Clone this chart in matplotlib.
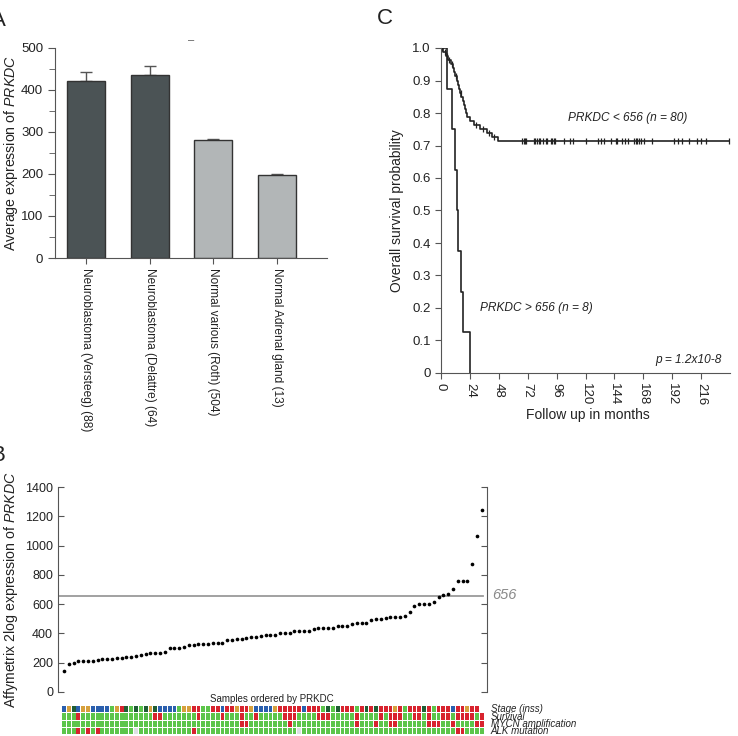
import numpy as np
import matplotlib
matplotlib.use("Agg")
import matplotlib.pyplot as plt
from matplotlib.ticker import MultipleLocator

plt.rcParams['font.family'] = ['Liberation Sans', 'DejaVu Sans']
plt.rcParams['mathtext.fontset'] = 'custom'
plt.rcParams['mathtext.rm'] = 'Liberation Sans'
plt.rcParams['mathtext.it'] = 'Liberation Sans:italic'

# ---------------- data ----------------
# Panel A
a_categories = ["Neuroblastoma (Versteeg) (88)", "Neuroblastoma (Delattre) (64)",
                "Normal various (Roth) (504)", "Normal Adrenal gland (13)"]
a_values = [422, 436, 280, 197]
a_errors = [20, 22, 4, 4]
a_colors = ["#4b5355", "#4b5355", "#b2b6b7", "#b2b6b7"]

# Panel C (Kaplan-Meier)
low_times = [0, 2, 4, 6, 8, 10, 11, 12, 13, 14, 15, 16, 17, 18, 19, 20, 21, 22, 24, 27, 32, 38, 42, 47, 240]
low_surv = [1.0, 0.9875, 0.975, 0.9625, 0.95, 0.9375, 0.925, 0.9125, 0.9, 0.8875, 0.875, 0.8625,
            0.85, 0.8375, 0.825, 0.8125, 0.8, 0.7875, 0.775, 0.7625, 0.75, 0.7375, 0.725, 0.7125, 0.7125]
low_censored = [1, 3, 5, 7, 9, 12.5, 16.5, 29, 35, 40, 44,
                67, 69, 70, 71, 77, 78, 80, 81, 82.5, 85, 87, 88, 91, 92, 94, 95, 102, 107.5,
                110, 120, 130, 132.5, 135, 141, 145, 146.5, 150.5, 153, 155, 160, 162, 163,
                164.5, 166, 168.5, 175.5, 193.5, 196.5, 200.5, 206, 213, 216, 220, 239.5]
high_times = [0, 5, 9, 11.5, 13, 14.5, 16.5, 18.5, 24]
high_surv = [1.0, 0.875, 0.75, 0.625, 0.5, 0.375, 0.25, 0.125, 0.0]
c_xticks = [0, 24, 48, 72, 96, 120, 144, 168, 192, 216]
c_yticks = [0, 0.1, 0.2, 0.3, 0.4, 0.5, 0.6, 0.7, 0.8, 0.9, 1.0]
c_yticklabels = ["0", "0.1", "0.2", "0.3", "0.4", "0.5", "0.6", "0.7", "0.8", "0.9", "1.0"]

# Panel B
b_values = [145, 189, 196, 210, 212, 214, 214, 216, 226, 228, 228, 230, 232, 238, 242, 246,
            252, 262, 264, 266, 268, 270, 298, 300, 302, 304, 318, 322, 326, 328, 330, 332,
            334, 336, 356, 358, 360, 362, 366, 376, 378, 380, 388, 390, 392, 400, 402, 404,
            414, 416, 418, 420, 432, 434, 436, 438, 440, 450, 452, 454, 466, 468, 470, 472,
            494, 496, 498, 508, 510, 512, 514, 516, 548, 590, 598, 600, 604, 612, 651, 663,
            670, 706, 758, 758, 760, 874, 1065, 1243]
b_cutoff = 656
b_yticks = [0, 200, 400, 600, 800, 1000, 1200, 1400]
strip_labels = ["Stage (inss)", "Survival", "MYCN amplification", "ALK mutation"]
strip_stage = "bodboobbbbgordgdgdodbbbbgoorrggrrbrrorrobbbborrrrrbrrrgdgdrrrgr" + "drdrrrorgrrrdrgrrrbrrorr"
strip_surv = ("gggrgggggggggggggggrrgggggggrggggrgggrggrgggggrrrggggrrrgggggrggg"
              "grgrrrggrrgrggrrgrrrrgrrrr")[:88]
strip_mycn = ("gggggggggggggggggggggggggggggggggggggrrggggggggrgggggggggggggrg"
              "ggrggrrggggggrrrggrggggrrr")[:88]
strip_alk = ("gggrgrgrgggggggxgggggggggggrgggggggggggggggggggggxgggggggggggggggg"
             "ggggggggggggggggrrgggg")[:88]
strip_palette = {"b": "#2a5fae", "o": "#d6a03c", "d": "#1f5e34", "g": "#5cc54a",
                 "r": "#d8232e", "x": "#dde1e4"}

# ---------------- figure ----------------
W, H = 738, 736
fig = plt.figure(figsize=(W / 100, H / 100), dpi=100)


def box(l, t, r, b):
    return [l / W, 1 - b / H, (r - l) / W, (b - t) / H]


spine_c = "#555555"
txt_c = "#222222"

# ---------- Panel A ----------
axA = fig.add_axes(box(55, 48, 327, 258))
xa = np.arange(len(a_values))
axA.bar(xa, a_values, width=0.6, color=a_colors, edgecolor="#333333", linewidth=1.0, zorder=2)
axA.errorbar(xa, a_values, yerr=[[0] * 4, a_errors], fmt="none", ecolor="#555555",
             elinewidth=1.0, capsize=4, capthick=1.0, zorder=1)
axA.set_xlim(-0.487, 3.785)
axA.set_ylim(0, 500)
axA.yaxis.set_major_locator(MultipleLocator(100))
axA.yaxis.set_minor_locator(MultipleLocator(50))
axA.set_xticks(xa)
axA.set_xticklabels(a_categories, rotation=270, fontsize=8.6, color=txt_c)
for s in ["top", "right"]:
    axA.spines[s].set_visible(False)
for s in ["left", "bottom"]:
    axA.spines[s].set_color(spine_c)
axA.tick_params(axis="y", which="both", direction="out", color=spine_c, labelsize=9.5, labelcolor=txt_c)
axA.tick_params(axis="y", which="major", length=5)
axA.tick_params(axis="y", which="minor", length=4)
axA.tick_params(axis="x", direction="out", length=4, color=spine_c, pad=3)
axA.set_ylabel("Average expression of $\\it{PRKDC}$", fontsize=10.2, color=txt_c)
axA.yaxis.set_label_coords((20 - 55) / 272, 0.5)
fig.text(191 / W, 1 - 40 / H, "\u2013", fontsize=8, color="#555555", ha="center", va="center")
fig.text(-0.012, 1 - 20 / H, "A", fontsize=16, ha="left", va="center", color=txt_c)

# ---------- Panel C ----------
axC = fig.add_axes(box(441, 48, 730, 373))
axC.step(low_times, low_surv, where="post", color=txt_c, lw=1.2)
axC.step(high_times, high_surv, where="post", color=txt_c, lw=1.2)
lt = np.array(low_times)
ls = np.array(low_surv)
cens_y = [ls[np.searchsorted(lt, c, side="right") - 1] for c in low_censored]
axC.plot(low_censored, cens_y, ls="none", marker="|", ms=5, mew=0.9, color=txt_c)
axC.set_xlim(0, 240)
axC.set_ylim(0, 1.0)
axC.set_xticks(c_xticks)
axC.set_xticklabels([str(v) for v in c_xticks], rotation=270, fontsize=9.5, color=txt_c)
axC.set_yticks(c_yticks)
axC.set_yticklabels(c_yticklabels, fontsize=9.5, color=txt_c)
for s in ["top", "right"]:
    axC.spines[s].set_visible(False)
for s in ["left", "bottom"]:
    axC.spines[s].set_color(spine_c)
axC.tick_params(direction="out", length=4, color=spine_c)
axC.set_ylabel("Overall survival probability", fontsize=10, color=txt_c)
axC.yaxis.set_label_coords((404 - 441) / 289, 0.5)
axC.set_xlabel("Follow up in months", fontsize=10, color=txt_c)
axC.xaxis.set_label_coords((588 - 441) / 289, -(408 - 373) / 325)
fs_ann = 8.6
axC.text(568 / W, 1 - 118 / H, "PRKDC < 656 (n = 80)", transform=fig.transFigure, style="italic",
         fontsize=fs_ann, ha="left", va="center", color=txt_c)
axC.text(480 / W, 1 - 308 / H, "PRKDC > 656 (n = 8)", transform=fig.transFigure, style="italic",
         fontsize=fs_ann, ha="left", va="center", color=txt_c)
axC.text(722 / W, 1 - 360 / H, "p = 1.2x10-8", transform=fig.transFigure, style="italic",
         fontsize=fs_ann, ha="right", va="center", color=txt_c)
fig.text(385 / W, 1 - 18 / H, "C", fontsize=16, ha="center", va="center", color=txt_c)

# ---------- Panel B ----------
axB = fig.add_axes(box(58, 487, 487, 692))
xb = np.arange(len(b_values))
axB.scatter(xb, b_values, s=7, color="black", zorder=3, linewidths=0)
axB.set_xlim(-1.25, 88.1)
axB.set_ylim(0, 1400)
axB.axhline(b_cutoff, xmin=0, xmax=0.99, color="#9a9a9a", lw=1.3, zorder=2)
axB.set_yticks(b_yticks)
axB.set_yticklabels([str(v) for v in b_yticks], fontsize=9, color=txt_c)
axB.set_xticks([])
for s in ["top", "bottom", "right"]:
    axB.spines[s].set_visible(False)
axB.spines["left"].set_color(spine_c)
axB.tick_params(axis="y", direction="in", length=4, color=spine_c)
axB.set_ylabel("Affymetrix 2log expression of $\\it{PRKDC}$", fontsize=10.2, color=txt_c)
axB.yaxis.set_label_coords((20 - 58) / 429, 0.5)
axR = axB.twinx()
axR.set_ylim(0, 1400)
axR.set_yticks(b_yticks)
axR.tick_params(axis="y", direction="in", length=4, color=spine_c, labelright=False)
for s in ["top", "bottom", "left"]:
    axR.spines[s].set_visible(False)
axR.spines["right"].set_color(spine_c)
axB.text(492 / W, 1 - 595 / H, "656", transform=fig.transFigure, style="italic", fontsize=10.5,
         color="#8a8a8a", ha="left", va="center")
fig.text(272 / W, 1 - 699 / H, "Samples ordered by PRKDC", fontsize=7, ha="center", va="center",
         color=txt_c)
fig.text(-0.014, 1 - 455 / H, "B", fontsize=16, ha="left", va="center", color=txt_c)

# strips
axS = fig.add_axes(box(58, 706, 487, 735.2))
axS.set_xlim(-1.25, 88.1)
axS.set_ylim(4, 0)
rows = [strip_stage, strip_surv, strip_mycn, strip_alk]
for r, codes in enumerate(rows):
    cols = [strip_palette[c] for c in codes[:len(b_values)]]
    axS.bar(xb[:len(cols)], 0.88, width=0.8, bottom=r, color=cols, linewidth=0, align="center")
    axS.text(88.9, r + 0.45, strip_labels[r], style="italic", fontsize=7.0, ha="left", va="center",
             color=txt_c, clip_on=False)
axS.axis("off")

fig.savefig("out.png", dpi=100)
